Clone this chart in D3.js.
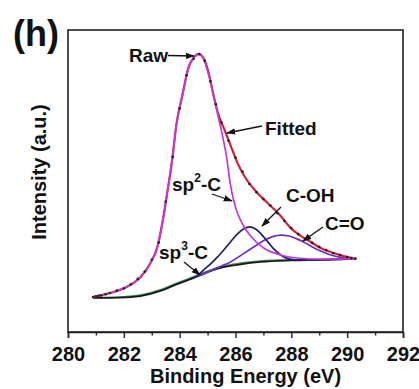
<!DOCTYPE html>
<html>
<head>
<meta charset="utf-8">
<script src="https://cdn.jsdelivr.net/npm/d3@7"></script>
<style>
  body { margin: 0; background: #fff; }
  text { font-family: "Liberation Sans", Arial, sans-serif; font-weight: bold; fill: #111; }
</style>
</head>
<body>
<div id="chart"></div>
<script>
// binding energy (eV) vs intensity (a.u.)
const xTicks = [280, 281, 282, 283, 284, 285, 286, 287, 288, 289, 290, 291, 292];

const rawData = [
  [280.9, 11.6], [281.0, 11.8], [281.1, 12.0], [281.2, 12.1], [281.35, 12.5], [281.5, 12.9],
  [281.75, 13.7], [282.0, 14.5], [282.25, 15.8], [282.5, 17.6], [282.75, 20.0], [283.0, 23.9],
  [283.25, 29.6], [283.5, 43.2], [283.75, 58.0], [284.0, 74.0], [284.25, 85.0], [284.5, 90.5],
  [284.7, 92.0], [284.9, 89.8], [285.1, 83.0], [285.3, 75.4], [285.5, 69.4], [285.75, 63.3],
  [286.0, 57.8], [286.25, 53.1], [286.5, 49.0], [286.75, 46.3], [287.0, 44.0], [287.25, 41.9],
  [287.5, 39.3], [287.75, 36.8], [288.0, 34.4], [288.25, 32.4], [288.5, 30.8], [288.75, 29.5],
  [289.0, 28.2], [289.25, 27.1], [289.5, 26.1], [289.75, 25.5], [290.0, 24.8], [290.15, 24.5], [290.3, 24.3]
];

const fitted = [
  [280.9, 11.6], [281.5, 12.9], [282.1, 14.9], [282.6, 18.2], [282.95, 22.8], [283.2, 28.1],
  [283.38, 36.1], [283.56, 46.4], [283.74, 57.6], [283.88, 68.5], [284.1, 78.5], [284.31, 87.4],
  [284.53, 91.1], [284.67, 92.1], [284.85, 90.7], [285.03, 86.1], [285.21, 78.5], [285.39, 71.9],
  [285.61, 66.9], [285.82, 61.9], [286.07, 56.0], [286.36, 51.0], [286.72, 46.7], [287.15, 42.7],
  [287.62, 38.4], [287.98, 34.4], [288.34, 31.8], [288.7, 29.8], [289.05, 27.8], [289.41, 26.5],
  [289.85, 25.2], [290.31, 24.2]
];

const sp2C = [
  [280.9, 11.6], [281.5, 12.9], [282.1, 14.9], [282.6, 18.2], [282.95, 22.8], [283.2, 28.1],
  [283.38, 36.1], [283.56, 46.4], [283.74, 57.6], [283.88, 68.5], [284.1, 78.5], [284.31, 87.4],
  [284.53, 91.1], [284.67, 92.1], [284.85, 90.7], [285.03, 85.4], [285.21, 78.5], [285.39, 70.9],
  [285.53, 65.2], [285.68, 57.9], [285.82, 48.7], [285.93, 43.7], [286.07, 39.4], [286.29, 35.1],
  [286.54, 31.8], [287.01, 27.8], [287.62, 25.5], [288.23, 24.5], [289.05, 24.1], [290.31, 24.2]
];

const cOH = [
  [284.38, 17.5], [284.64, 18.6], [284.85, 20.5], [285.1, 22.5], [285.35, 24.8], [285.61, 27.5],
  [285.82, 29.8], [286.07, 32.5], [286.29, 34.1], [286.5, 34.8], [286.72, 34.1], [287.01, 31.5],
  [287.19, 29.5], [287.37, 27.5], [287.62, 25.5], [287.87, 24.3], [288.23, 23.8], [289.05, 23.9],
  [290.31, 24.2]
];

const cO = [
  [284.56, 18.2], [284.92, 19.5], [285.46, 21.7], [285.82, 23.2], [286.18, 25.3], [286.54, 27.5],
  [286.79, 29.0], [287.08, 30.6], [287.33, 31.6], [287.62, 32.1], [287.91, 31.8], [288.16, 31.0],
  [288.44, 29.8], [288.77, 28.1], [289.05, 26.8], [289.41, 25.5], [289.77, 24.7], [290.31, 24.2]
];

const sp3C = [
  [280.9, 11.4], [281.87, 11.6], [282.59, 12.2], [283.31, 14.0], [283.84, 16.0], [284.38, 17.9],
  [284.92, 19.9], [285.46, 21.6], [286.18, 22.8], [286.9, 23.5], [287.98, 23.9], [289.05, 24.0],
  [290.31, 24.2]
];

const background = [
  [280.9, 11.3], [281.87, 11.4], [282.59, 11.9], [283.31, 13.6], [283.84, 15.6], [284.38, 17.5],
  [284.92, 19.5], [285.46, 21.2], [286.18, 22.4], [286.9, 23.2], [287.98, 23.7], [289.05, 23.9],
  [290.31, 24.2]
];

const W = 419, H = 389;
const margin = {top: 30, right: 16, bottom: 57, left: 68};

const svg = d3.select("#chart").append("svg").attr("width", W).attr("height", H);

const x = d3.scaleLinear().domain([280, 292]).range([margin.left, W - margin.right]);
const y = d3.scaleLinear().domain([0, 100]).range([H - margin.bottom, margin.top]);

svg.append("defs").append("marker")
  .attr("id", "arr").attr("viewBox", "0 0 10 10").attr("refX", 9).attr("refY", 5)
  .attr("markerWidth", 7).attr("markerHeight", 7).attr("orient", "auto")
  .append("path").attr("d", "M0,1.5 L10,5 L0,8.5 Z").attr("fill", "#111");

const line = d3.line().x(d => x(d[0])).y(d => y(d[1])).curve(d3.curveMonotoneX);

// curves, back to front
svg.append("path").datum(sp3C).attr("d", line)
  .attr("fill", "none").attr("stroke", "#4a8a5a").attr("stroke-width", 1.6);
svg.append("path").datum(background).attr("d", line)
  .attr("fill", "none").attr("stroke", "#1a1a1a").attr("stroke-width", 1.8);
svg.append("path").datum(cO).attr("d", line)
  .attr("fill", "none").attr("stroke", "#6a2fc0").attr("stroke-width", 1.7);
svg.append("path").datum(cOH).attr("d", line)
  .attr("fill", "none").attr("stroke", "#1f1f6b").attr("stroke-width", 1.7);
svg.append("path").datum(fitted).attr("d", line)
  .attr("fill", "none").attr("stroke", "#d0203c").attr("stroke-width", 2.2);
svg.append("path").datum(sp2C).attr("d", line)
  .attr("fill", "none").attr("stroke", "#c23ad6").attr("stroke-width", 1.7);

svg.append("g").selectAll("circle").data(rawData).join("circle")
  .attr("cx", d => x(d[0])).attr("cy", d => y(d[1])).attr("r", 1.3).attr("fill", "#222");

// frame
svg.append("rect")
  .attr("x", margin.left).attr("y", margin.top)
  .attr("width", W - margin.left - margin.right).attr("height", H - margin.top - margin.bottom)
  .attr("fill", "none").attr("stroke", "#222").attr("stroke-width", 1.6);

const xAxis = svg.append("g")
  .attr("transform", "translate(0," + (H - margin.bottom) + ")")
  .call(d3.axisBottom(x).tickValues(xTicks).tickSize(6).tickPadding(9)
    .tickFormat(d => d % 2 === 0 ? d : ""));
xAxis.select(".domain").attr("stroke", "#222").attr("stroke-width", 1.6);
xAxis.selectAll(".tick line").attr("stroke", "#222").attr("stroke-width", 1.4)
  .attr("y2", d => d % 2 === 0 ? 6 : 3.5);
xAxis.selectAll(".tick text").style("font-size", "20px").style("font-weight", "bold")
  .style("font-family", "'Liberation Sans', Arial, sans-serif").attr("fill", "#111");

svg.append("text").attr("x", (margin.left + W - margin.right) / 2 + 10).attr("y", 383)
  .attr("text-anchor", "middle").style("font-size", "20px").text("Binding Energy (eV)");

svg.append("text").attr("transform", "translate(46,172) rotate(-90)")
  .attr("text-anchor", "middle").style("font-size", "20px").text("Intensity (a.u.)");

svg.append("text").attr("x", 13).attr("y", 46).style("font-size", "36px").text("(h)");

// annotations
function label(txt, sup, tx, ty) {
  const t = svg.append("text").attr("x", tx).attr("y", ty).style("font-size", "19px");
  if (sup) {
    t.append("tspan").text(txt[0]);
    t.append("tspan").attr("dy", -9).style("font-size", "12px").text(sup);
    t.append("tspan").attr("dy", 9).text(txt[1]);
  } else {
    t.text(txt);
  }
}
function arrow(x1, y1, x2, y2) {
  svg.append("line").attr("x1", x1).attr("y1", y1).attr("x2", x2).attr("y2", y2)
    .attr("stroke", "#111").attr("stroke-width", 1.3).attr("marker-end", "url(#arr)");
}

label("Raw", null, 129, 62);
arrow(168, 55.5, 194, 56);
label("Fitted", null, 265, 135);
arrow(262, 126, 227, 133);
label(["sp", "-C"], "2", 172, 191);
arrow(212, 194, 232, 201);
label("C-OH", null, 286, 202);
arrow(281, 207, 262, 226);
label("C=O", null, 325, 230);
arrow(323, 227, 303, 241);
label(["sp", "-C"], "3", 159, 259);
arrow(184, 262, 200, 275);
</script>
</body>
</html>
